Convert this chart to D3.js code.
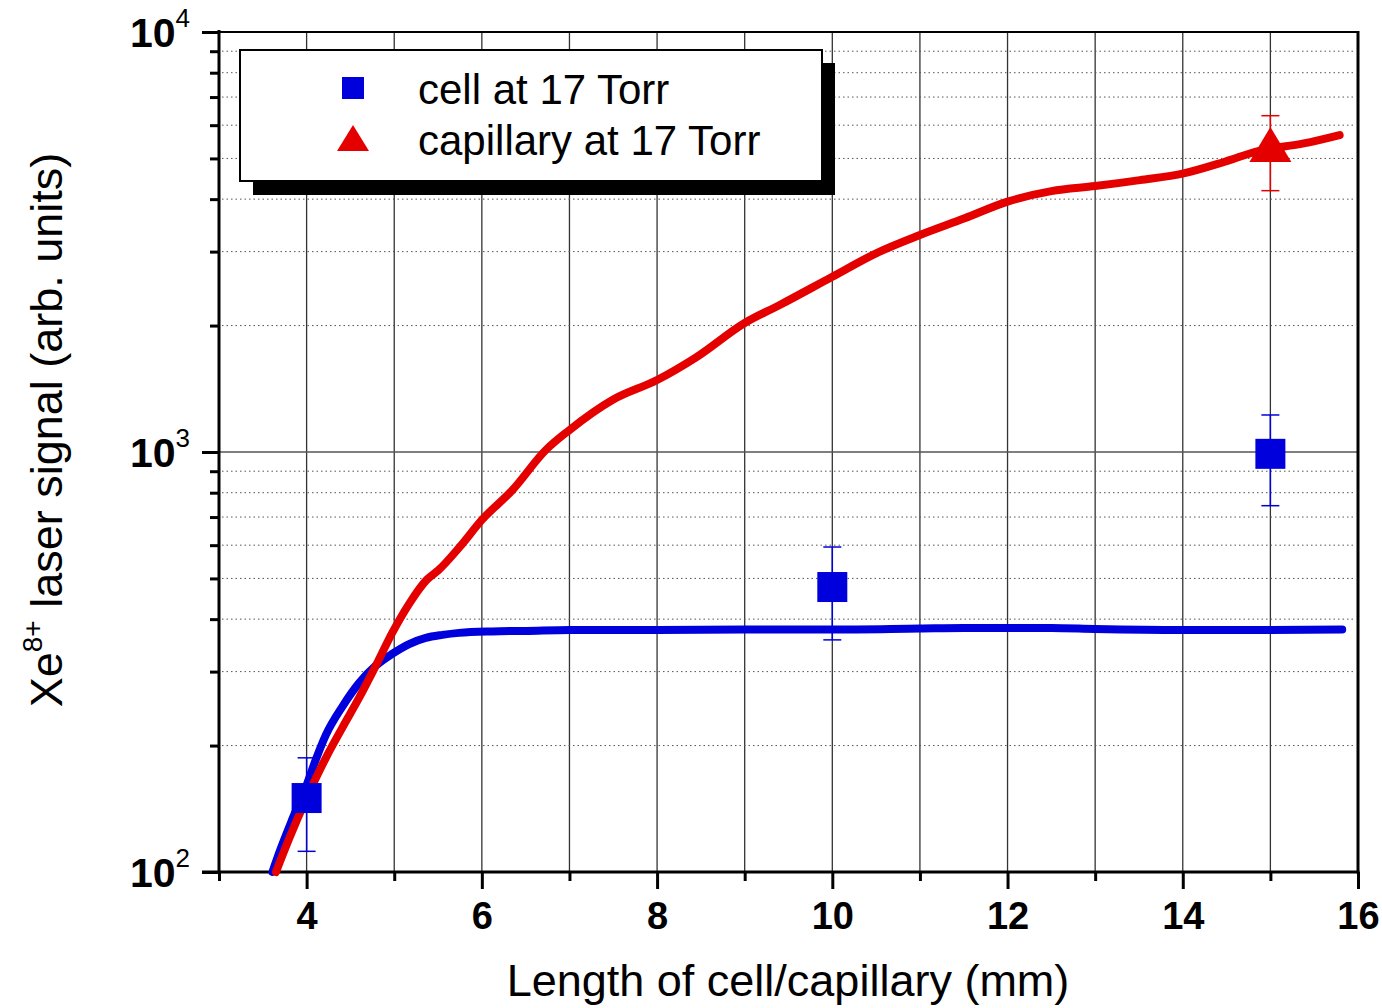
<!DOCTYPE html>
<html>
<head>
<meta charset="utf-8">
<script src="https://cdn.jsdelivr.net/npm/d3@7"></script>
<style>
  body { margin: 0; background: #fff; }
  text { font-family: Arial, "Liberation Sans", sans-serif; }
</style>
</head>
<body>
<svg width="1382" height="1008"></svg>
<script>
// curve: cell (blue) and capillary (red)
let cellCurveX = [3.61, 3.7, 3.84, 4.0, 4.1, 4.22, 4.41, 4.6, 4.79, 4.98, 5.17, 5.36, 5.55, 5.74, 6.12, 6.5, 7, 7.5, 8, 9, 10, 11, 11.5, 12, 12.5, 13, 14, 15, 15.82];
let cellCurveY = [100, 113, 134, 161, 184, 212, 248, 282, 310, 331, 349, 361, 367, 371, 374, 375, 377, 377, 377, 378, 378, 380, 381, 381, 381, 379, 377, 377, 378];

let capCurveX = [3.65, 3.8, 4.0, 4.22, 4.41, 4.6, 4.79, 4.98, 5.17, 5.37, 5.5, 5.75, 6.0, 6.35, 6.73, 7.0, 7.49, 8.0, 8.45, 9.0, 9.4, 10, 10.5, 11, 11.51, 12, 12.5, 13, 13.51, 14.01, 14.48, 14.86, 15.38, 15.79];
let capCurveY = [100, 120, 150, 187, 221, 260, 310, 372, 435, 496, 522, 595, 689, 812, 1011, 1128, 1330, 1484, 1683, 2029, 2239, 2614, 2972, 3285, 3600, 3945, 4180, 4297, 4440, 4607, 4911, 5206, 5429, 5685];

// measured points with error bars
let cellX = [4, 10, 15];
let cellY = [150, 477, 990];
let cellLow = [112, 357, 745];
let cellHigh = [187, 594, 1225];

let capX = [15];
let capY = [5400];
let capLow = [4190];
let capHigh = [6320];

let xMajor = [4, 6, 8, 10, 12, 14, 16];
let xMinor = [3, 5, 7, 9, 11, 13, 15];
let yMajor = [100, 1000, 10000];
let yMinor = [200, 300, 400, 500, 600, 700, 800, 900, 2000, 3000, 4000, 5000, 6000, 7000, 8000, 9000];

let legendLabels = ["cell at 17 Torr", "capillary at 17 Torr"];

let blue = "#0000dd", red = "#e50000";

let svg = d3.select("svg");

let xScale = d3.scaleLinear().domain([3, 16]).range([219, 1358]);
let yScale = d3.scaleLog().domain([100, 10000]).range([872, 32]);

// grid
let grid = svg.append("g");
grid.selectAll(".gx")
  .data(d3.range(4, 16))
  .enter().append("line")
  .attr("x1", d => xScale(d)).attr("x2", d => xScale(d))
  .attr("y1", 32).attr("y2", 872)
  .attr("stroke", "#333").attr("stroke-width", 1.3);

grid.selectAll(".gy")
  .data(yMinor)
  .enter().append("line")
  .attr("x1", 222).attr("x2", 1355)
  .attr("y1", d => yScale(d)).attr("y2", d => yScale(d))
  .attr("stroke", "#555").attr("stroke-width", 1)
  .attr("stroke-dasharray", "1.5,3");

grid.append("line")
  .attr("x1", 219).attr("x2", 1358)
  .attr("y1", yScale(1000)).attr("y2", yScale(1000))
  .attr("stroke", "#555").attr("stroke-width", 1.5);

// axes
let xAxisMajor = svg.append("g").attr("transform", "translate(0,872)")
  .call(d3.axisBottom(xScale).tickValues(xMajor).tickSize(17).tickFormat(d3.format("d")));
let xAxisMinor = svg.append("g").attr("transform", "translate(0,872)")
  .call(d3.axisBottom(xScale).tickValues(xMinor).tickSize(9).tickFormat(""));
let yAxisMajor = svg.append("g").attr("transform", "translate(219,0)")
  .call(d3.axisLeft(yScale).tickValues(yMajor).tickSize(17).tickFormat(""));
let yAxisMinor = svg.append("g").attr("transform", "translate(219,0)")
  .call(d3.axisLeft(yScale).tickValues(yMinor).tickSize(9).tickFormat(""));

svg.selectAll(".domain").remove();
svg.selectAll(".tick line").attr("stroke", "#000").attr("stroke-width", 3);

xAxisMajor.selectAll(".tick text")
  .attr("y", 30).attr("dy", "0.72em")
  .attr("fill", "#000")
  .style("font-size", "38px").style("font-weight", "bold")
  .style("font-family", "Arial, 'Liberation Sans', sans-serif");

// y tick labels as 10^n
let yLab = svg.append("g");
yMajor.forEach(v => {
  let t = yLab.append("text")
    .attr("x", 190).attr("y", yScale(v) + 15)
    .attr("text-anchor", "end");
  t.append("tspan").text("10").style("font-size", "41px").style("font-weight", "bold");
  t.append("tspan").attr("dy", -20).text(Math.round(Math.log10(v))).style("font-size", "26px");
});

// frame
svg.append("line").attr("x1", 219).attr("x2", 219).attr("y1", 30).attr("y2", 873.5)
  .attr("stroke", "#000").attr("stroke-width", 3);
svg.append("line").attr("x1", 202).attr("x2", 1359.5).attr("y1", 872).attr("y2", 872)
  .attr("stroke", "#000").attr("stroke-width", 3);
svg.append("line").attr("x1", 202).attr("x2", 1359).attr("y1", 32).attr("y2", 32)
  .attr("stroke", "#000").attr("stroke-width", 2);
svg.append("line").attr("x1", 1358).attr("x2", 1358).attr("y1", 31).attr("y2", 873.5)
  .attr("stroke", "#000").attr("stroke-width", 3);

// curves
let line = d3.line()
  .x(d => xScale(d[0]))
  .y(d => yScale(d[1]))
  .curve(d3.curveMonotoneX);

svg.append("path")
  .datum(d3.zip(cellCurveX, cellCurveY))
  .attr("d", line)
  .attr("fill", "none").attr("stroke", blue).attr("stroke-width", 8)
  .attr("stroke-linecap", "round");

svg.append("path")
  .datum(d3.zip(capCurveX, capCurveY))
  .attr("d", line)
  .attr("fill", "none").attr("stroke", red).attr("stroke-width", 8)
  .attr("stroke-linecap", "round");

// error bars
function errorBars(xs, lows, highs, color) {
  let g = svg.append("g").attr("stroke", color).attr("stroke-width", 1.5);
  xs.forEach((x, i) => {
    let px = xScale(x);
    g.append("line").attr("x1", px).attr("x2", px)
      .attr("y1", yScale(lows[i])).attr("y2", yScale(highs[i]));
    [lows[i], highs[i]].forEach(v => {
      g.append("line").attr("x1", px - 9).attr("x2", px + 9)
        .attr("y1", yScale(v)).attr("y2", yScale(v));
    });
  });
}
errorBars(cellX, cellLow, cellHigh, blue);
errorBars(capX, capLow, capHigh, red);

// markers
svg.selectAll(".sq")
  .data(d3.zip(cellX, cellY))
  .enter().append("rect")
  .attr("x", d => xScale(d[0]) - 15)
  .attr("y", d => yScale(d[1]) - 15)
  .attr("width", 30).attr("height", 30)
  .attr("fill", blue);

function triPath(w, h) {
  return "M0," + (-h / 2) + "L" + (w / 2) + "," + (h / 2) + "L" + (-w / 2) + "," + (h / 2) + "Z";
}

svg.selectAll(".tri")
  .data(d3.zip(capX, capY))
  .enter().append("path")
  .attr("transform", d => "translate(" + xScale(d[0]) + "," + yScale(d[1]) + ")")
  .attr("d", triPath(42, 35))
  .attr("fill", red);

// legend
let legend = svg.append("g");
legend.append("rect").attr("x", 253).attr("y", 63).attr("width", 582).attr("height", 132).attr("fill", "#000");
legend.append("rect").attr("x", 240).attr("y", 50).attr("width", 582).attr("height", 131)
  .attr("fill", "#fff").attr("stroke", "#000").attr("stroke-width", 2);
legend.append("rect").attr("x", 342).attr("y", 77).attr("width", 22).attr("height", 22).attr("fill", blue);
legend.append("path").attr("transform", "translate(353,138)").attr("d", triPath(32, 26)).attr("fill", red);
legend.selectAll(".lt")
  .data(legendLabels)
  .enter().append("text")
  .attr("x", 418)
  .attr("y", (d, i) => 104 + i * 51)
  .style("font-size", "42px")
  .text(d => d);

// axis titles
svg.append("text")
  .attr("x", 788).attr("y", 996)
  .attr("text-anchor", "middle")
  .style("font-size", "45px")
  .text("Length of cell/capillary (mm)");

let yt = svg.append("text")
  .attr("transform", "translate(62,430) rotate(-90)")
  .attr("text-anchor", "middle")
  .style("font-size", "45px");
yt.append("tspan").text("Xe");
yt.append("tspan").attr("dy", -20).style("font-size", "28px").text("8+");
yt.append("tspan").attr("dy", 20).text(" laser signal (arb. units)");
</script>
</body>
</html>
